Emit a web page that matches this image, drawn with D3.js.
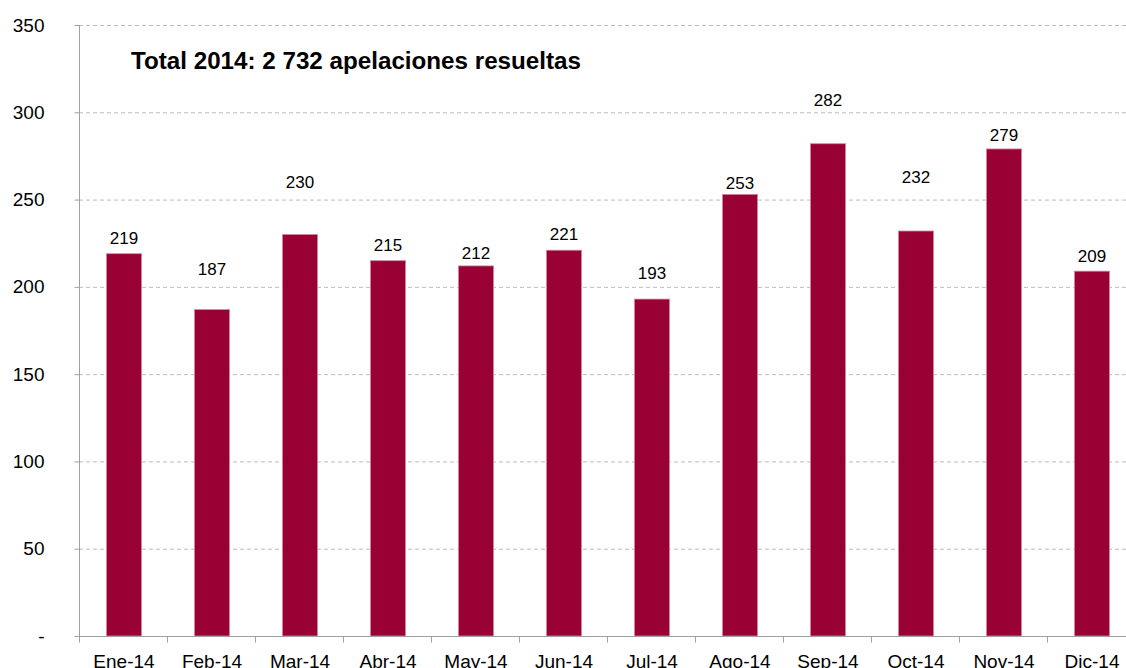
<!DOCTYPE html>
<html><head><meta charset="utf-8">
<script src="https://cdn.jsdelivr.net/npm/d3@7"></script>
<style>
html,body{margin:0;padding:0;background:#fff;overflow:hidden}
svg{display:block;font-family:"Liberation Sans",Arial,sans-serif}
</style></head>
<body>
<svg id="chart" width="1126" height="668"></svg>
<script>
const months = ["Ene-14","Feb-14","Mar-14","Abr-14","May-14","Jun-14","Jul-14","Ago-14","Sep-14","Oct-14","Nov-14","Dic-14"];
const values = [219,187,230,215,212,221,193,253,282,232,279,209];
const yTicks = [0,50,100,150,200,250,300,350];
const titleText = "Total 2014: 2 732 apelaciones resueltas";
// label lift above bar top (px), as placed in the original
const labelLift = [10,35,46,10,7,10,20,5,38,48,8,9];

const svg = d3.select("#chart");
const W = 1126, H = 668;
const x0 = 79, x1 = 79 + 12*88, yTop = 25, yBot = 636;

const x = d3.scaleBand().domain(months).range([x0, x1]).paddingInner(0.6).paddingOuter(0.3);
const y = d3.scaleLinear().domain([0, 350]).range([yBot, yTop]);

// gridlines
svg.append("g").selectAll("line").data(yTicks.filter(d => d > 0)).join("line")
  .attr("x1", x0).attr("x2", W).attr("y1", d => y(d)+0.5).attr("y2", d => y(d)+0.5)
  .attr("stroke", "#bcbcbc").attr("stroke-width", 1).attr("stroke-dasharray", "4,3");

// bars
svg.append("g").selectAll("rect").data(values).join("rect")
  .attr("x", (d,i) => x(months[i]) + 1)
  .attr("width", x.bandwidth())
  .attr("y", d => y(d))
  .attr("height", d => yBot - y(d))
  .attr("fill", "#990033")
  .attr("stroke", "#d58aa3").attr("stroke-width", 0.8);

// value labels
svg.append("g").selectAll("text").data(values).join("text")
  .attr("x", (d,i) => x(months[i]) + 1 + x.bandwidth()/2)
  .attr("y", (d,i) => y(d) - labelLift[i])
  .attr("text-anchor", "middle")
  .attr("font-size", 17).attr("fill", "#000")
  .text(d => d);

// y axis
const yAxis = d3.axisLeft(y).tickValues(yTicks).tickSize(5).tickPadding(30)
  .tickFormat(d => d === 0 ? "-" : d);
const gy = svg.append("g").attr("transform", `translate(${x0+0.5},0)`).call(yAxis);
gy.select(".domain").attr("stroke", "#a0a0a0").attr("d", `M0,${yTop}V${yBot}`);
gy.selectAll(".tick line").attr("stroke", "#a0a0a0");
gy.selectAll(".tick text").attr("font-size", 19).attr("fill", "#000")
  .attr("font-family", "Liberation Sans, Arial, sans-serif");

// x axis
const xAxis = d3.axisBottom(x).tickSize(0).tickPadding(0);
const gx = svg.append("g").attr("transform", `translate(0,${yBot+0.5})`).call(xAxis);
gx.select(".domain").attr("stroke", "#a0a0a0").attr("d", `M${x0},0H${W}`);
gx.selectAll(".tick text").attr("font-size", 19).attr("fill", "#000")
  .attr("dy", null).attr("y", 31).attr("dx", 1)
  .attr("font-family", "Liberation Sans, Arial, sans-serif");
// category boundary ticks
const bounds = d3.range(months.length + 1).map(i => x0 + i * x.step());
gx.append("g").selectAll("line").data(bounds).join("line")
  .attr("x1", d => d + 0.5).attr("x2", d => d + 0.5).attr("y1", 0).attr("y2", 6)
  .attr("stroke", "#a0a0a0");

// title
svg.append("text").attr("x", 131).attr("y", 69)
  .attr("font-size", 24.2).attr("font-weight", "bold").attr("fill", "#000")
  .text(titleText);
</script>
</body></html>
